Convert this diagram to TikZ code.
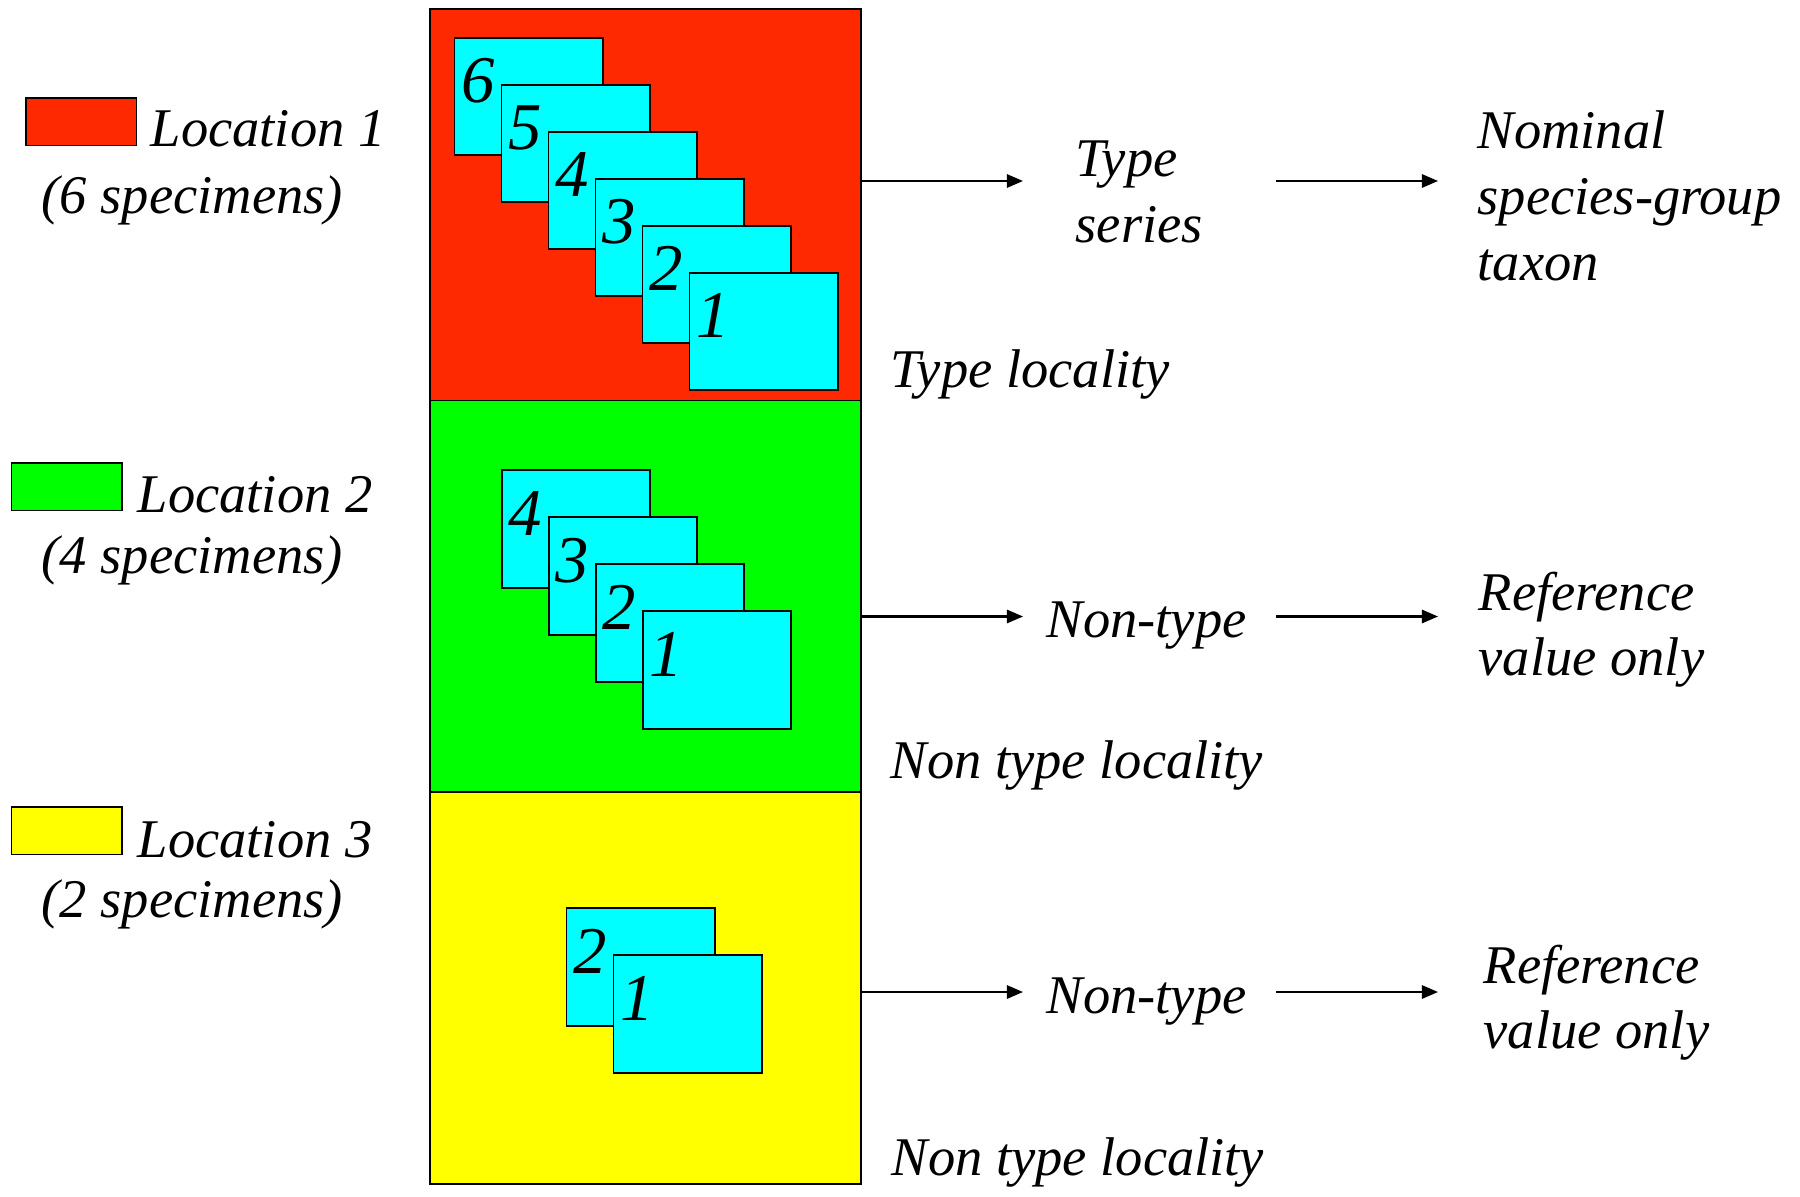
\documentclass[tikz,border=0pt]{standalone}
\usepackage{fontspec}
\setmainfont{Liberation Serif}
\usetikzlibrary{arrows.meta}
\definecolor{locred}{RGB}{255,41,0}
\definecolor{locgreen}{RGB}{0,255,0}
\definecolor{locyellow}{RGB}{255,255,0}
\definecolor{cardcyan}{RGB}{0,255,255}
\tikzset{
  locbox/.style={draw=black, line width=0.5pt, anchor=north west, inner sep=0pt, outer sep=0pt,
    minimum width=4.305cm, minimum height=3.915cm},
  swatch/.style={draw=black, line width=0.5pt, anchor=north west, inner sep=0pt, outer sep=0pt,
    minimum width=1.105cm, minimum height=0.475cm},
  card/.style={draw=black, line width=0.5pt, fill=cardcyan, anchor=north west, inner sep=0pt, outer sep=0pt,
    minimum width=1.482cm, minimum height=1.173cm},
  cardnum/.style={anchor=base west, inner sep=0pt, font=\fontsize{19}{22}\selectfont\itshape},
  lbl/.style={anchor=base west, inner sep=0pt, font=\fontsize{15.5}{18.5}\selectfont\itshape},
  arr/.style={line width=0.6pt, -{Triangle[length=4.6pt,width=3.8pt]}}
}
\begin{document}
\begin{tikzpicture}[x=0.01cm, y=-0.01cm]
\useasboundingbox (0,0) rectangle (1800,1197);

% main location boxes
\node[locbox, fill=locred] (red) at (430,9) {};
\node[locbox, fill=locgreen] (green) at (430,400.5) {};
\node[locbox, fill=locyellow] (yellow) at (430,792) {};

% specimen cards, location 1
\foreach \k/\n in {0/6,1/5,2/4,3/3,4/2,5/1}{
  \node[card] (r\n) at ({454.6+47*\k},{37.7+47*\k}) {};
  \node[cardnum] (rn\n) at ({460.6+47*\k},{102.7+47*\k}) {\n};
}
% location 2
\foreach \k/\n in {0/4,1/3,2/2,3/1}{
  \node[card] (g\n) at ({501.7+47*\k},{470.3+47*\k}) {};
  \node[cardnum] (gn\n) at ({507.7+47*\k},{535.3+47*\k}) {\n};
}
% location 3
\foreach \k/\n in {0/2,1/1}{
  \node[card] (y\n) at ({566.6+47*\k},{908.3+47*\k}) {};
  \node[cardnum] (yn\n) at ({572.6+47*\k},{973.3+47*\k}) {\n};
}

% legend
\node[swatch, fill=locred] (sw1) at (26,98) {};
\node[lbl] (loc1) at (150,147) {Location 1};
\node[lbl] (spec1) at (41,213) {(6 specimens)};
\node[swatch, fill=locgreen] (sw2) at (11.5,463) {};
\node[lbl] (loc2) at (137,512) {Location 2};
\node[lbl] (spec2) at (41,573) {(4 specimens)};
\node[swatch, fill=locyellow] (sw3) at (11.5,807) {};
\node[lbl] (loc3) at (137,857) {Location 3};
\node[lbl] (spec3) at (41,917) {(2 specimens)};

% right-hand labels, location 1
\node[lbl] (ts1) at (1075,177) {Type};
\node[lbl] (ts2) at (1075,242) {series};
\node[lbl] (nom1) at (1477,149) {Nominal};
\node[lbl] (nom2) at (1477,215) {species-group};
\node[lbl] (nom3) at (1477,280) {taxon};
\node[lbl] (tl) at (890,387) {Type locality};

% location 2
\node[lbl] (nt2) at (1046,637) {Non-type};
\node[lbl] (rv2a) at (1478,610) {Reference};
\node[lbl] (rv2b) at (1478,675) {value only};
\node[lbl] (ntl2) at (890,778) {Non type locality};

% location 3
\node[lbl] (nt3) at (1046,1013) {Non-type};
\node[lbl] (rv3a) at (1483,983) {Reference};
\node[lbl] (rv3b) at (1483,1048) {value only};
\node[lbl] (ntl3) at (891,1175) {Non type locality};

% arrow end coordinates
\coordinate (a1e) at (1023,181);
\coordinate (b1s) at (1276,181);
\coordinate (b1e) at (1438,181);
\coordinate (a2e) at (1023,616.5);
\coordinate (b2s) at (1276,616.5);
\coordinate (b2e) at (1438,616.5);
\coordinate (a3e) at (1023,992);
\coordinate (b3s) at (1276,992);
\coordinate (b3e) at (1438,992);

\draw[arr] (red.east |- a1e) -- (a1e);
\draw[arr] (b1s) -- (b1e);
\draw[arr] (green.east |- a2e) -- (a2e);
\draw[arr] (b2s) -- (b2e);
\draw[arr] (yellow.east |- a3e) -- (a3e);
\draw[arr] (b3s) -- (b3e);
\end{tikzpicture}
\end{document}
